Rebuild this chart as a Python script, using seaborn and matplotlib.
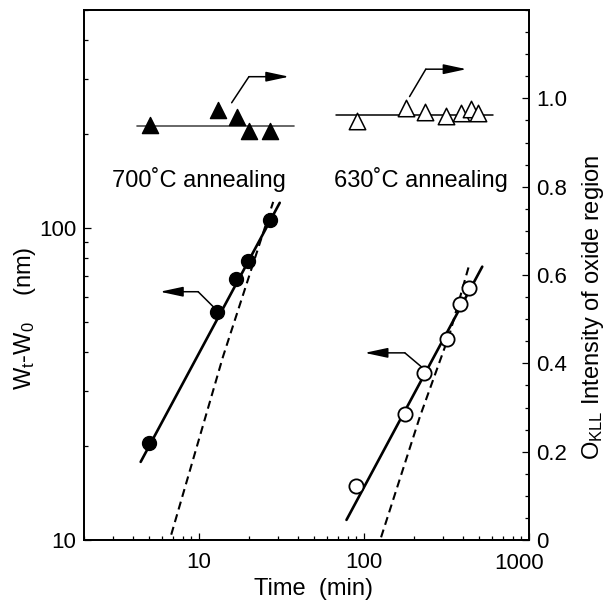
import numpy as np
import pandas as pd
import seaborn as sns
import matplotlib
matplotlib.use("Agg")
import matplotlib.pyplot as plt
from matplotlib.ticker import FuncFormatter, NullFormatter, MultipleLocator, FixedLocator, LogLocator

# 700C annealing: oxide thickness (left axis)
t700 = [5.0, 12.9, 16.9, 19.9, 26.9]
w700 = [20.5, 54.0, 68.5, 78.2, 106.0]
fit700_t = [4.44, 30.9]
fit700_w = [17.8, 120.5]
calc700_t = [6.8, 14.0, 28.2]
calc700_w = [10.4, 38.7, 121.3]

# 630C annealing: oxide thickness (left axis)
t630 = [88.9, 177, 231, 317, 382, 435]
w630 = [14.9, 25.4, 34.2, 44.1, 57.0, 64.1]
fit630_t = [78.4, 521]
fit630_w = [11.6, 75.2]
calc630_t = [127, 218, 331, 437]
calc630_w = [10.2, 24.8, 45.9, 77.1]

# O KLL intensity (right axis)
o700_t = [5.06, 13.1, 17.1, 20.1, 26.9]
o700_i = [0.940, 0.974, 0.957, 0.927, 0.925]
lev700_t = [4.2, 37.8]
lev700_i = [0.938, 0.938]
o630_t = [90.2, 179, 234, 316, 389, 443, 491]
o630_i = [0.949, 0.977, 0.970, 0.961, 0.967, 0.975, 0.966]
lev630_t = [67.5, 605]
lev630_i = [0.962, 0.962]

right_ticks = [0, 0.2, 0.4, 0.6, 0.8, 1.0]
right_labels = ["0", "0.2", "0.4", "0.6", "0.8", "1.0"]

sns.set_theme(style="ticks", rc={"axes.edgecolor": "black", "xtick.color": "black",
                                 "ytick.color": "black", "text.color": "black"})
plt.rcParams['font.family'] = ['Liberation Sans', 'DejaVu Sans']
plt.rcParams['mathtext.fontset'] = 'custom'
plt.rcParams['mathtext.rm'] = 'Liberation Sans'
plt.rcParams['mathtext.it'] = 'Liberation Sans:italic'

fig = plt.figure(figsize=(6.1, 6.05), dpi=100)
ax = fig.add_axes([83.5 / 610, 1 - 540 / 605, 445.5 / 610, 530 / 605])
ax.set_xscale('log')
ax.set_yscale('log')
ax.set_xlim(2, 1000)
ax.set_ylim(10, 500)
ax2 = ax.twinx()
ax2.set_ylim(0, 1.2)

# thickness data
sns.lineplot(x=fit700_t, y=fit700_w, ax=ax, color='black', lw=1.9, sort=False, errorbar=None)
sns.lineplot(x=calc700_t, y=calc700_w, ax=ax, color='black', lw=1.5, sort=False, errorbar=None,
             linestyle=(0, (3.9, 2.4)))
sns.lineplot(x=fit630_t, y=fit630_w, ax=ax, color='black', lw=1.9, sort=False, errorbar=None)
sns.lineplot(x=calc630_t, y=calc630_w, ax=ax, color='black', lw=1.5, sort=False, errorbar=None,
             linestyle=(0, (3.9, 2.4)))
sns.scatterplot(x=t700, y=w700, ax=ax, marker='o', s=100, color='black', edgecolor='black',
                linewidth=1.0, zorder=3)
sns.scatterplot(x=t630, y=w630, ax=ax, marker='o', s=105, color='white', edgecolor='black',
                linewidth=1.3, zorder=3)

# intensity data
sns.lineplot(x=lev700_t, y=lev700_i, ax=ax2, color='0.3', lw=1.2, sort=False, errorbar=None)
sns.lineplot(x=lev630_t, y=lev630_i, ax=ax2, color='black', lw=1.1, sort=False, errorbar=None)
sns.scatterplot(x=o700_t, y=o700_i, ax=ax2, marker='^', s=135, color='black', edgecolor='black',
                linewidth=1.0, zorder=3)
sns.scatterplot(x=o630_t, y=o630_i, ax=ax2, marker='^', s=140, color='white', edgecolor='black',
                linewidth=1.1, zorder=3)

# pointer arrows
head = dict(arrowstyle="-|>,head_length=1.4,head_width=0.3", color='black', lw=1.1,
            mutation_scale=10, shrinkA=0, shrinkB=0)
ax.plot([12.8, 9.9], [54.6, 62.5], color='black', lw=1.1)
ax.annotate("", xy=(5.81, 62.5), xytext=(9.9, 62.5), arrowprops=head)
ax.plot([223, 177], [35.9, 39.8], color='black', lw=1.1)
ax.annotate("", xy=(101, 39.8), xytext=(177, 39.8), arrowprops=head)
ax2.plot([15.8, 20.1], [0.990, 1.049], color='black', lw=1.1)
ax2.annotate("", xy=(35.2, 1.049), xytext=(20.1, 1.049), arrowprops=head)
ax2.plot([189, 237], [1.004, 1.066], color='black', lw=1.1)
ax2.annotate("", xy=(418, 1.066), xytext=(237, 1.066), arrowprops=head)

ax.text(10, 142.6, "700˚C annealing", ha='center', va='center', fontsize=17)
ax.text(220, 142.6, "630˚C annealing", ha='center', va='center', fontsize=17)

# axes styling
fmt = FuncFormatter(lambda v, p: f"{v:g}" if v < 1000 else "")
ax.xaxis.set_major_locator(LogLocator(base=10))
ax.xaxis.set_minor_locator(LogLocator(base=10, subs=np.arange(2, 10)))
ax.yaxis.set_minor_locator(LogLocator(base=10, subs=np.arange(2, 10)))
ax.xaxis.set_major_formatter(fmt)
ax.yaxis.set_major_formatter(fmt)
ax.xaxis.set_minor_formatter(NullFormatter())
ax.yaxis.set_minor_formatter(NullFormatter())
ax.tick_params(which='both', direction='in', top=False, right=False, labelsize=16, width=0.9)
ax.tick_params(which='major', length=5)
ax.tick_params(which='minor', length=3)
ax.tick_params(axis='x', pad=9)
ax.tick_params(axis='y', pad=5)
# last x tick label sits a little left of its tick, as in the original
ax.annotate("1000", xy=(1000, 10), xytext=(-7, -9.5), textcoords='offset points',
            ha='center', va='top', fontsize=16)

ax2.yaxis.set_major_locator(FixedLocator(right_ticks))
ax2.set_yticklabels(right_labels)
ax2.yaxis.set_minor_locator(MultipleLocator(0.05))
ax2.tick_params(which='both', direction='in', labelsize=16, width=0.9, pad=5)
ax2.tick_params(which='major', length=5)
ax2.tick_params(which='minor', length=3)

for a in (ax, ax2):
    for s in a.spines.values():
        s.set_linewidth(1.3)
        s.set_color('black')

fig.text(314 / 610, 1 - 589 / 605, "Time  (min)", ha='center', va='center', fontsize=17)
fig.text(25.5 / 610, 1 - 318 / 605, "W$_\\mathrm{t}$-W$_\\mathrm{0}$    (nm)", rotation=90,
         ha='center', va='center', fontsize=17)
fig.text(593 / 610, 1 - 307.5 / 605, "O$_\\mathrm{KLL}$ Intensity of oxide region", rotation=90,
         ha='center', va='center', fontsize=17)

fig.savefig("out.png", dpi=100)
